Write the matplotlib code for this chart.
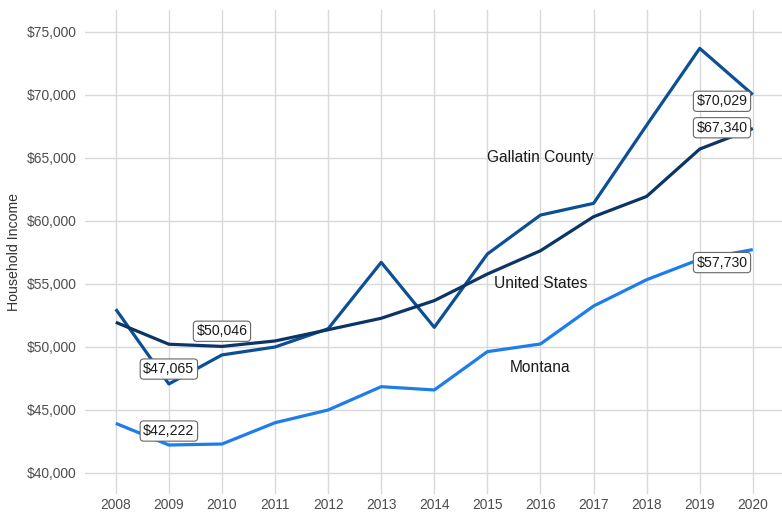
import matplotlib.pyplot as plt
from matplotlib.ticker import FuncFormatter

plt.rcParams['font.family'] = ['Liberation Sans', 'DejaVu Sans']

years = [2008, 2009, 2010, 2011, 2012, 2013, 2014, 2015, 2016, 2017, 2018, 2019, 2020]
gallatin = [53000, 47065, 49370, 50000, 51450, 56720, 51560, 57380, 60470, 61400, 67600, 73700, 70029]
united_states = [51960, 50220, 50046, 50480, 51370, 52280, 53680, 55790, 57640, 60340, 61950, 65710, 67340]
montana = [43940, 42222, 42300, 43990, 45000, 46850, 46590, 49630, 50240, 53250, 55340, 56960, 57730]

GALLATIN_C = "#0D4F94"
US_C = "#0B3566"
MONTANA_C = "#1C7DEB"

# value labels: (x, y, text, ha)
labels = [
    (2010, 51250, "$50,046", 'center'),
    (2009, 48250, "$47,065", 'center'),
    (2009, 43330, "$42,222", 'center'),
    (2020, 69500, "$70,029", 'right'),
    (2020, 67400, "$67,340", 'right'),
    (2020, 56700, "$57,730", 'right'),
]
series_names = [(2016, 65000, "Gallatin County"), (2016, 55000, "United States"), (2016, 48400, "Montana")]

fig = plt.figure(figsize=(7.82, 5.14), dpi=100)
ax = fig.add_axes([85 / 782, 20 / 514, 697 / 782, 484 / 514])

ax.plot(years, montana, color=MONTANA_C, lw=2.3, zorder=3, solid_capstyle='butt')
ax.plot(years, gallatin, color=GALLATIN_C, lw=2.3, zorder=3, solid_capstyle='butt')
ax.plot(years, united_states, color=US_C, lw=2.3, zorder=4, solid_capstyle='butt')

for x, y, t, ha in labels:
    ax.text(x + (-0.1 if ha == 'right' else 0), y, t, ha=ha, va='center', fontsize=10.2, color="#1a1a1a", zorder=6,
            bbox=dict(boxstyle='round,pad=0.22,rounding_size=0.25', fc='white', ec='#666666', lw=0.8))

for x, y, t in series_names:
    ax.text(x, y, t, ha='center', va='center', fontsize=11.2, color="#1a1a1a", zorder=6)

ax.set_xlim(2007.42, 2020.55)
ax.set_ylim(38333, 76746)
ax.set_xticks(years)
ax.set_yticks(range(40000, 75001, 5000))
ax.yaxis.set_major_formatter(FuncFormatter(lambda v, p: f"${v:,.0f}"))
ax.grid(True, color="#d9d9d9", lw=1.0)
ax.set_axisbelow(True)
for s in ax.spines.values():
    s.set_visible(False)
ax.tick_params(length=0, labelsize=9.9, labelcolor="#4d4d4d")
ax.tick_params(axis='y', pad=6)
ax.tick_params(axis='x', pad=3)
ax.set_ylabel("Household Income", fontsize=10.2, color="#333333", labelpad=4)

fig.savefig("out.png", dpi=100, facecolor='white')
